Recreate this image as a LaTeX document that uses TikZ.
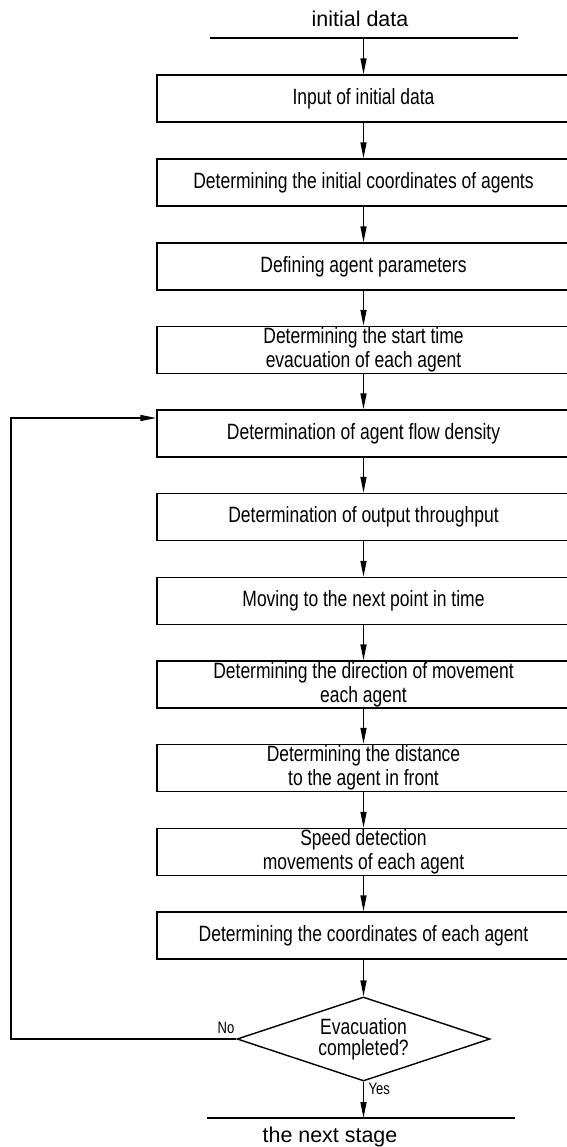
\documentclass[tikz,border=0pt]{standalone}
\usepackage{fontspec}
\setmainfont{Liberation Sans}
\newfontfamily\narrowsans[FakeStretch=0.79]{Liberation Sans}
\usetikzlibrary{arrows.meta,shapes.geometric}

\begin{document}
\begin{tikzpicture}[
    line width=0.4pt,
    box/.style={draw, minimum width=4.13cm, minimum height=0.47cm, inner sep=0pt,
      align=center, font=\narrowsans\fontsize{6.3}{5.7}\selectfont},
    check/.style={draw, diamond, aspect=3, minimum width=2.53cm, minimum height=0.84cm,
      inner sep=0pt, align=center, font=\narrowsans\fontsize{6.3}{5.9}\selectfont},
    flow/.style={-{Triangle[length=1.6mm,width=0.6mm]}},
    tag/.style={font=\narrowsans\fontsize{4.7}{4.7}\selectfont, inner sep=0pt}
  ]
  \useasboundingbox (0,0) rectangle (5.66,-11.47);

  \node[anchor=base, font=\fontsize{6.1}{6}\selectfont] (start) at (3.60,-0.27) {initial data};
  \coordinate (startL) at (2.10,-0.38);
  \coordinate (startR) at (5.18,-0.38);
  \coordinate (startC) at (3.635,-0.38);
  \draw (startL) -- (startR);

  \node[box] (b1)  at (3.635,-0.985) {Input of initial data};
  \node[box] (b2)  at (3.635,-1.825) {Determining the initial coordinates of agents};
  \node[box] (b3)  at (3.635,-2.665) {Defining agent parameters};
  \node[box] (b4)  at (3.635,-3.500) {Determining the start time\\evacuation of each agent};
  \node[box] (b5)  at (3.635,-4.335) {Determination of agent flow density};
  \node[box] (b6)  at (3.635,-5.170) {Determination of output throughput};
  \node[box] (b7)  at (3.635,-6.010) {Moving to the next point in time};
  \node[box] (b8)  at (3.635,-6.845) {Determining the direction of movement\\each agent};
  \node[box] (b9)  at (3.635,-7.680) {Determining the distance\\to the agent in front};
  \node[box] (b10) at (3.635,-8.520) {Speed detection\\movements of each agent};
  \node[box] (b11) at (3.635,-9.355) {Determining the coordinates of each agent};

  \node[check] (done) at (3.635,-10.39) {Evacuation\\completed?};

  \draw[flow] (startC) -- (b1.north);
  \draw[flow] (b1) -- (b2);
  \draw[flow] (b2) -- (b3);
  \draw[flow] (b3) -- (b4);
  \draw[flow] (b4) -- (b5);
  \draw[flow] (b5) -- (b6);
  \draw[flow] (b6) -- (b7);
  \draw[flow] (b7) -- (b8);
  \draw[flow] (b8) -- (b9);
  \draw[flow] (b9) -- (b10);
  \draw[flow] (b10) -- (b11);
  \draw[flow] (b11) -- (done.north);

  % loop back when not finished
  \coordinate (backB) at (0.11,-10.39);
  \coordinate (backT) at (0.11,-4.18);
  \draw[flow] (done.west) -- (backB) -- (backT) -- (b5.west |- backT);
  \node[tag, anchor=base east] (no) at (2.35,-10.33) {No};

  \coordinate (endL) at (2.07,-11.18);
  \coordinate (endR) at (5.15,-11.18);
  \coordinate (endC) at (3.635,-11.18);
  \draw (endL) -- (endR);
  \draw[flow] (done.south) -- (endC);
  \node[tag, anchor=base west] (yes) at (3.68,-10.94) {Yes};
  \node[anchor=base, font=\fontsize{6.1}{6}\selectfont] (stop) at (3.30,-11.42) {the next stage};
\end{tikzpicture}
\end{document}
